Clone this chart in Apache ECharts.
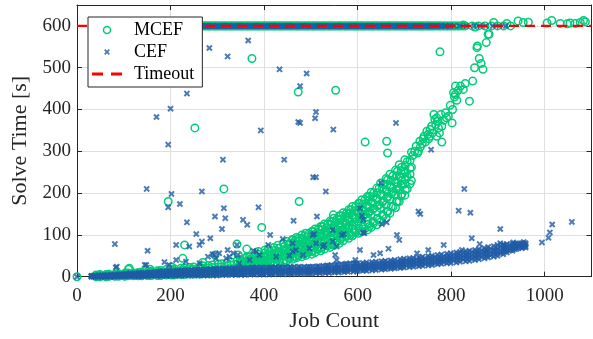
<!DOCTYPE html>
<html><head><meta charset="utf-8">
<script src="https://cdn.jsdelivr.net/npm/echarts@6/dist/echarts.min.js"></script>
<style>html,body{margin:0;padding:0;background:#fff}#c{width:593px;height:339px}</style>
</head><body><div id="c"></div>
<script>
// ---------------- data ----------------
const xTicks = [0, 200, 400, 600, 800, 1000];
const yTicks = [0, 100, 200, 300, 400, 500, 600];
const TIMEOUT = 600;

// MCEF runs that hit the timeout (job counts)
const mcefTimeoutJobs = [112,118,125,131,136,143,149,154,161,166,172,179,185,190,196,203,208,214,220,226,231,238,243,249,256,261,267,273,279,284,291,296,302,308,314,319,326,331,337,343,349,354,361,366,372,378,384,389,396,401,407,413,419,424,431,436,442,448,454,459,466,471,477,483,489,494,501,506,512,518,524,529,536,541,547,553,559,564,571,576,582,588,594,599,606,611,617,623,629,634,641,646,652,658,664,669,676,681,687,693,699,704,711,716,722,728,734,739,746,751,757,763,770,776,783,790,797,805,813,821,830,845,858,872,886,899,912,927];
const mcefTimeoutJobs2 = [115,121,128,134,139,146,152,157,164,169,175,182,188,193,199,206,211,217,223,229,234,241,246,252,259,264,270,276,282,287,294,299,305,311,317,322,329,334,340,346,352,357,364,369,375,381,387,392,399,404,410,416,422,427,434,439,445,451,457,462,469,474,480,486,492,497,504,509,515,521,527,532,539,544,550,556,562,567,574,579,585,591,597,602,609,614,620,626,632,637,644,649,655,661,667,672,679,684,690,696,702,707,714,719,725,731,737,742,749,754,760,766,773,779,786,793,800,808,816,825];
// MCEF points slightly above the timeout (large instances)
const mcefOverTimeout = [[826,602],[851,597],[891,608],[919,606],[943,612],[954,608],[965,609],[1005,607],[1015,613],[1033,606],[1048,605],[1054,607],[1065,606],[1076,608],[1083,613],[1087,610]];
// MCEF dense band: job counts and solve-time samples
const mcefBandJobs = [41,49,62,68,81,89,102,109,121,131,138,151,159,172,179,191,201,208,222,229,241,249,262,269,281,289,302,309,321,329,342,349,361,369,381,389,402,409,421,429,441,449,461,469,481,489,502,509,521,529,541,549,561,569,581,589,602,609,621,629,641,649,661,669,681,689,701];
const mcefBandA = [0,0,0,1,1,1,1,2,2,2,2,3,3,3,3,4,4,4,5,5,6,6,6,7,7,8,8,9,9,10,11,12,14,15,17,18,24,26,28,31,34,38,42,45,48,51,54,58,62,66,70,75,80,86,92,98,104,108,112,118,124,131,140,152,165,180,195];
const mcefBandB = [1,2,2,2,3,3,3,4,4,5,5,6,6,7,7,8,9,9,10,11,11,12,12,13,14,15,16,17,17,19,20,22,24,26,28,30,36,39,42,45,49,53,57,61,65,69,73,78,82,87,92,98,104,110,116,122,130,136,142,148,156,164,172,184,196,208,222];
const mcefBandC = [3,3,4,4,4,5,6,6,7,8,8,9,10,10,11,12,13,14,15,16,17,18,19,20,21,22,23,24,26,28,30,32,34,37,40,42,50,53,56,60,64,68,73,78,83,87,92,97,102,108,114,120,126,133,140,147,154,162,170,178,186,196,204,214,226,240,252];
const mcefBandD = [4,5,5,6,6,7,8,9,9,10,11,12,13,14,15,17,18,19,20,21,22,23,24,26,27,28,30,31,33,35,38,41,44,47,50,53,64,67,70,75,80,84,89,94,100,104,108,114,120,126,133,140,146,153,160,168,176,184,192,202,212,224,235,245,255,268,280];
const mcefBandJobs2 = [455,466,474,486,495,504,516,524,536,545,556,564,576,585,596,604,616,625,634,646,655,664,676,685,694,706,715];
const mcefBandE = [44,47,50,54,58,62,66,70,74,78,84,90,96,100,106,110,115,120,128,136,145,155,168,180,198,210,230];
const mcefBandF = [62,66,70,75,80,85,90,95,100,106,112,118,124,130,138,144,150,156,164,172,182,192,204,216,230,240,262];
const mcefBandG = [80,86,92,97,102,108,114,120,126,132,138,146,152,160,168,176,184,192,200,212,222,232,242,252,262,275,298];
const mcefBandJobs3 = [353,363,372,383,393,402,413,423,432,443,453,462,473,483,492,503,513,522,533,543,552,563,573,582,593,603,612,623,633,642,653,663,672,683,693,702,712];
const mcefBandH = [16,18,20,22,23,29,31,34,37,40,44,48,52,55,58,62,66,70,75,80,85,91,97,103,110,116,121,126,132,139,148,157,168,180,193,207,222];
const mcefBandI = [23,26,28,30,32,39,42,45,49,53,57,61,66,70,74,78,83,88,93,99,104,111,117,124,131,139,146,153,161,169,178,188,198,209,221,233,245];
const mcefBandJ = [29,31,34,36,39,46,49,53,57,61,65,70,74,79,83,88,93,98,104,110,116,122,129,136,143,151,159,167,176,185,195,205,214,224,236,248,259];
const mcefBandK = [36,39,42,45,48,57,60,63,68,72,76,81,86,91,95,100,105,111,117,124,130,137,144,151,158,166,174,182,191,201,211,221,231,241,254,266,278];
// MCEF steep part of the curve
const mcefUpper = [[718,290],[722,300],[725,312],[728,296],[730,300],[733,324],[734,310],[738,318],[740,330],[742,336],[745,322],[748,348],[750,340],[752,330],[755,336],[755,352],[758,360],[760,344],[763,388],[765,376],[767,364],[769,380],[769,336],[772,372],[773,356],[775,344],[778,388],[780,360],[780,322],[784,374],[788,392],[790,380],[794,384],[798,410],[802,368],[803,400],[805,440],[807,430],[809,456],[809,436],[812,422],[815,446],[820,456],[826,448],[830,462],[839,420],[846,468],[850,500],[855,548],[856,552],[860,522],[864,510],[868,496],[875,560],[881,580],[879,580]];
// MCEF scattered points
const mcefOutliers = [[0,0],[110,18],[112,20],[156,18],[202,24],[195,180],[226,44],[230,76],[252,356],[269,34],[295,52],[314,210],[342,78],[345,52],[363,66],[363,48],[374,522],[388,60],[395,118],[461,88],[473,442],[475,180],[522,112],[543,108],[548,148],[553,446],[616,322],[662,324],[664,296],[776,538]];

// CEF runs that hit the timeout (job counts)
const cefTimeoutJobs = [115,121,128,134,140,146,152,158,164,169,176,182,188,193,200,206,211,217,223,229,235,241,246,252,259,264,270,276,282,287,294,299,305,311,317,322,329,334,340,346,352,357,364,369,375,381,387,392,399,404,410,416,422,427,434,439,445,451,457,462,469,474,480,486,492,497,504,509,515,521,527,532,539,544,550,556,562,567,574,579,585,591,597,602,609,614,620,626,632,637,644,649,655,661,667,672,679,684,690,696,702,707,714,719,725,731,737,742,749,755,762,769,777,786,795,806,818,832,849,862,874,889,903,917];
const cefTimeoutJobs2 = [118,124,131,137,143,149,155,161,167,172,179,185,191,196,203,209,214,220,226,232,238,244,249,255,262,267,273,279,285,290,297,302,308,314,320,325,332,337,343,349,355,360,367,372,378,384,390,395,402,407,413,419,425,430,437,442,448,454,460,465,472,477,483,489,495,500,507,512,518,524,530,535,542,547,553,559,565,570,577,582,588,594,600,605,612,617,623,629,635,640,647,652,658,664,670,675,682,687,693,699,705,710,717,722,728,734,740,745,752,758,765,772,780,789,799];
// CEF dense band
const cefBandJobs = [31,39,51,59,71,79,91,99,111,119,131,139,151,159,171,179,191,199,211,219,231,239,251,259,271,279,291,299,311,319,331,339,351,359,371,379,391,399,411,419,431,439,451,459,471,479,491,499,511,519,531,539,551,559,571,579,591,599,611,619,631,639,651,659,671,679,691,699,711,719,731,739,751,759,771,779,791,799,811,819,831,839,851,859,871,879,891,899,911,919,931,939,951,959];
const cefBandA = [0,0,0,0,0,0,1,1,1,1, 1,1,1,2,2,2,2,2,2,3, 3,3,3,3,3,3,3,3,4,4, 4,4,4,4,5,5,5,5,5,6, 6,6,6,6,7,7,7,7,8,8, 9,9,10,10,11,12,12,13,14,14, 15,16,17,18,19,20,21,22,23,24, 25,26,27,28,30,31,32,33,34,36, 37,38,40,42,44,46,48,50,54,58, 62,66,68,70];
const cefBandB = [1,1,1,1,1,2,2,2,3,3, 3,3,4,4,4,5,5,6,6,6, 6,7,7,7,7,8,8,8,8,9, 9,9,9,9,10,10,10,10,10,11, 11,11,11,11,12,12,12,12,13,13, 14,14,15,16,17,18,19,19,20,21, 22,23,23,24,25,26,27,29,30,31, 32,33,34,35,37,38,39,41,42,44, 45,46,48,50,52,54,56,58,61,64, 67,70,72,73];
const cefBandC = [1,2,2,2,2,3,4,4,4,5, 5,6,6,7,7,8,8,9,9,10, 10,11,11,11,12,12,12,13,13,14, 14,14,14,15,15,15,15,15,15,16, 16,16,16,16,17,17,17,17,18,19, 19,20,21,22,23,24,25,26,27,27, 28,29,30,31,32,33,34,36,37,38, 39,40,42,43,44,45,47,48,50,51, 53,54,56,58,60,62,64,67,69,71, 73,75,76,77];
const cefBandD = [2,2,3,3,4,5,5,6,7,7, 8,8,9,10,11,12,12,13,13,14, 14,15,15,16,16,16,17,17,18,18, 18,19,19,19,20,20,20,20,21,21, 21,21,21,22,22,22,22,23,24,24, 25,26,27,28,29,30,31,32,33,34, 35,36,37,38,39,40,42,43,44,45, 46,48,49,50,52,53,55,56,58,59, 61,62,64,66,68,71,73,76,77,78, 79,80,80,80];
const cefBandJobs2 = [35,46,54,65,74,86,94, 105,114,126,134,145,155,166,175,184,195, 206,215,224,235,246,255,264,275,286,295, 304,315,326,335,344,355,366,375,384,395, 406,415,424,435,446,455,464,475,486,495, 504,515,526,535,544,555,566,575,584,595, 606,615,624,635,646,655,664,675,686,695, 704,715,726,735,744,755,766,775,784,795, 806,815,826,835,844,855,866,875,884,895, 906,915,926,935,944,955];
const cefBandE = [0,1,0,1,1,1,1, 2,2,2,2,2,3,3,3,3,4, 4,4,5,5,5,5,5,5,6,6, 6,6,7,7,7,7,7,8,8,8, 8,8,9,9,9,9,9,10,10,10, 10,11,11,12,12,13,13,14,15,16, 16,17,18,19,20,20,21,22,23,24, 26,27,28,29,30,31,32,34,35,36, 38,39,41,42,43,45,47,49,51,53, 56,60,63,66,69,71];
const cefBandF = [1,1,2,1,2,2,3, 3,4,4,4,5,5,6,6,7,7, 8,8,8,8,9,9,9,10,10,10, 10,11,11,12,12,12,12,13,13,13, 13,13,14,14,14,14,14,15,15,15, 15,16,16,17,17,18,19,20,21,22, 23,24,24,25,26,27,28,29,30,31, 33,34,35,36,37,38,39,41,42,43, 45,47,48,50,51,53,55,57,59,61, 64,67,69,71,73,74];
const cefBandG = [2,3,3,4,4,5,6, 7,8,8,9,9,10,11,12,13,14, 14,14,15,16,16,17,17,18,18,19, 19,19,20,20,21,21,21,22,22,22, 22,22,23,23,23,23,24,24,24,24, 24,25,26,27,28,29,30,31,32,33, 29,30,31,32,33,34,35,36,37,38, 40,41,42,43,44,46,47,48,49,51, 53,55,56,58,59,61,63,65,67,70, 72,74,76,77,78,79];
// CEF scattered points
const cefOutliers = [[0,0],[81,78],[83,22],[85,24],[145,28],[148,28],[151,62],[149,210],[170,382],[187,35],[195,166],[195,316],[197,28],[200,402],[202,198],[212,40],[212,76],[220,174],[233,36],[235,130],[235,438],[240,72],[255,102],[262,32],[262,76],[267,84],[267,204],[280,48],[283,547],[285,92],[290,54],[294,52],[295,144],[297,44],[304,56],[310,114],[312,280],[314,164],[317,140],[319,44],[322,64],[322,527],[326,48],[334,56],[342,76],[344,52],[347,32],[355,136],[364,124],[366,565],[369,40],[377,62],[383,60],[388,166],[390,52],[393,350],[409,76],[413,100],[426,48],[433,496],[440,90],[443,280],[454,50],[461,80],[461,60],[463,134],[468,64],[473,370],[477,456],[477,368],[483,52],[491,486],[497,68],[504,100],[505,238],[507,102],[509,379],[511,394],[511,238],[511,80],[513,144],[526,72],[529,76],[532,204],[547,112],[547,84],[548,352],[552,52],[555,72],[555,40],[566,100],[570,102],[595,40],[605,64],[605,164],[609,146],[612,136],[612,106],[614,104],[634,52],[648,56],[650,224],[652,126],[662,130],[666,67],[682,368],[684,100],[689,88],[727,56],[730,156],[734,150],[751,64],[757,304],[784,76],[816,158],[823,64],[828,210],[841,153],[844,92],[861,78],[905,114],[905,80],[912,76],[933,82],[948,78],[955,83],[994,82],[1008,93],[1011,106],[1016,125],[1058,131]];

// ---------------- chart ----------------
const GREEN = '#00cc7a', BLUE = '#1f5ba6', RED = '#ff0000', INK = '#262626';
const FONT = "'Liberation Serif','Times New Roman',serif";
const X_PATH = 'path://M0,2.2L2.2,0L5,2.8L7.8,0L10,2.2L7.2,5L10,7.8L7.8,10L5,7.2L2.2,10L0,7.8L2.8,5Z';
const X_LEGEND = 'path://M-1,-1M11,11M0,2.2L2.2,0L5,2.8L7.8,0L10,2.2L7.2,5L10,7.8L7.8,10L5,7.2L2.2,10L0,7.8L2.8,5Z';
const DASH_LEGEND = 'path://M0,0H11V3H0Z M19,0H30V3H19Z';

function zipCols(jobs, cols) {
  const out = [];
  cols.forEach(c => { const n = Math.min(jobs.length, c.length); for (let i = 0; i < n; i++) out.push([jobs[i], c[i]]); });
  return out;
}
const mcefData = [].concat(
  zipCols(mcefBandJobs, [mcefBandA, mcefBandB, mcefBandC, mcefBandD]),
  zipCols(mcefBandJobs2, [mcefBandE, mcefBandF, mcefBandG]),
  zipCols(mcefBandJobs3, [mcefBandH, mcefBandI, mcefBandJ, mcefBandK]),
  mcefUpper, mcefOutliers,
  mcefTimeoutJobs.map(j => [j, TIMEOUT]), mcefTimeoutJobs2.map(j => [j, TIMEOUT]), mcefOverTimeout);
const cefData = [].concat(
  zipCols(cefBandJobs, [cefBandA, cefBandB, cefBandC, cefBandD]),
  zipCols(cefBandJobs2, [cefBandE, cefBandF, cefBandG]),
  cefOutliers, cefTimeoutJobs.map(j => [j, TIMEOUT]), cefTimeoutJobs2.map(j => [j, TIMEOUT]));

const xMin = xTicks[0], xMax = 1100, xStep = xTicks[1] - xTicks[0];
const yMin = yTicks[0], yMax = 650, yStep = yTicks[1] - yTicks[0];

function axisBase(extra) {
  return Object.assign({
    type: 'value',
    axisLine: { show: true, onZero: false, lineStyle: { color: INK, width: 1 } },
    axisTick: { show: true, inside: true, length: 5, lineStyle: { color: INK, width: 1 } },
  }, extra);
}

const chart = echarts.init(document.getElementById('c'), null, { renderer: 'canvas' });
chart.setOption({
  animation: false,
  backgroundColor: '#fff',
  grid: { left: 77, right: 1.5, top: 5, bottom: 62.3, containLabel: false },
  legend: {
    z: 20, zlevel: 0,
    orient: 'vertical', left: 88, top: 17, padding: [2, 8, 2, 4], itemGap: 0,
    itemWidth: 30, itemHeight: 7, selectedMode: false,
    backgroundColor: '#fff', borderColor: INK, borderWidth: 1, borderRadius: 0,
    textStyle: { fontFamily: FONT, fontSize: 18, color: '#000', lineHeight: 22, padding: [0, 0, 0, 7] },
    data: [
      { name: 'MCEF', icon: 'circle', itemStyle: { color: 'rgba(0,0,0,0)', borderColor: GREEN, borderWidth: 1.5 } },
      { name: 'CEF', icon: X_LEGEND, itemStyle: { color: BLUE, borderWidth: 0 } },
      { name: 'Timeout', icon: DASH_LEGEND, itemStyle: { color: RED, borderWidth: 0 } }
    ]
  },
  xAxis: [
    axisBase({
      position: 'bottom', min: xMin, max: xMax, interval: xStep,
      axisLabel: { margin: 10, fontFamily: FONT, fontSize: 19, color: INK, showMaxLabel: false, formatter: v => String(v) },
      splitLine: { show: true, lineStyle: { color: '#dfdfdf', width: 1 } },
      name: 'Job Count', nameLocation: 'middle', nameGap: 34,
      nameTextStyle: { fontFamily: FONT, fontSize: 22, color: INK }
    }),
    axisBase({
      position: 'top', min: xMin, max: xMax, interval: xStep,
      axisLabel: { show: false }, splitLine: { show: false }
    })
  ],
  yAxis: [
    axisBase({
      position: 'left', min: yMin, max: yMax, interval: yStep,
      axisLabel: { margin: 6, fontFamily: FONT, fontSize: 19, color: INK, showMaxLabel: false, formatter: v => String(v) },
      splitLine: { show: true, lineStyle: { color: '#dfdfdf', width: 1 } },
      name: 'Solve Time [s]', nameLocation: 'middle', nameGap: 36,
      nameTextStyle: { fontFamily: FONT, fontSize: 22, color: INK }
    }),
    axisBase({
      position: 'right', min: yMin, max: yMax, interval: yStep,
      axisLabel: { show: false }, splitLine: { show: false }
    })
  ],
  series: [
    {
      name: 'MCEF', type: 'scatter', data: mcefData, symbol: 'circle', symbolSize: 7.5,
      itemStyle: { color: 'rgba(0,0,0,0)', borderColor: GREEN, borderWidth: 1.5, opacity: 1 },
      clip: false, z: 2, silent: true
    },
    {
      name: 'CEF', type: 'scatter', data: cefData, symbol: X_PATH, symbolSize: 6.5,
      itemStyle: { color: BLUE, borderWidth: 0 },
      clip: false, z: 3, silent: true
    },
    {
      name: 'Timeout', type: 'line', data: [[xMin, TIMEOUT], [xMax, TIMEOUT]],
      symbol: 'none', showSymbol: false, color: RED,
      lineStyle: { color: RED, width: 2.3, type: [10, 6] },
      itemStyle: { color: RED }, z: 5, silent: true
    }
  ]
});
</script>
</body></html>
